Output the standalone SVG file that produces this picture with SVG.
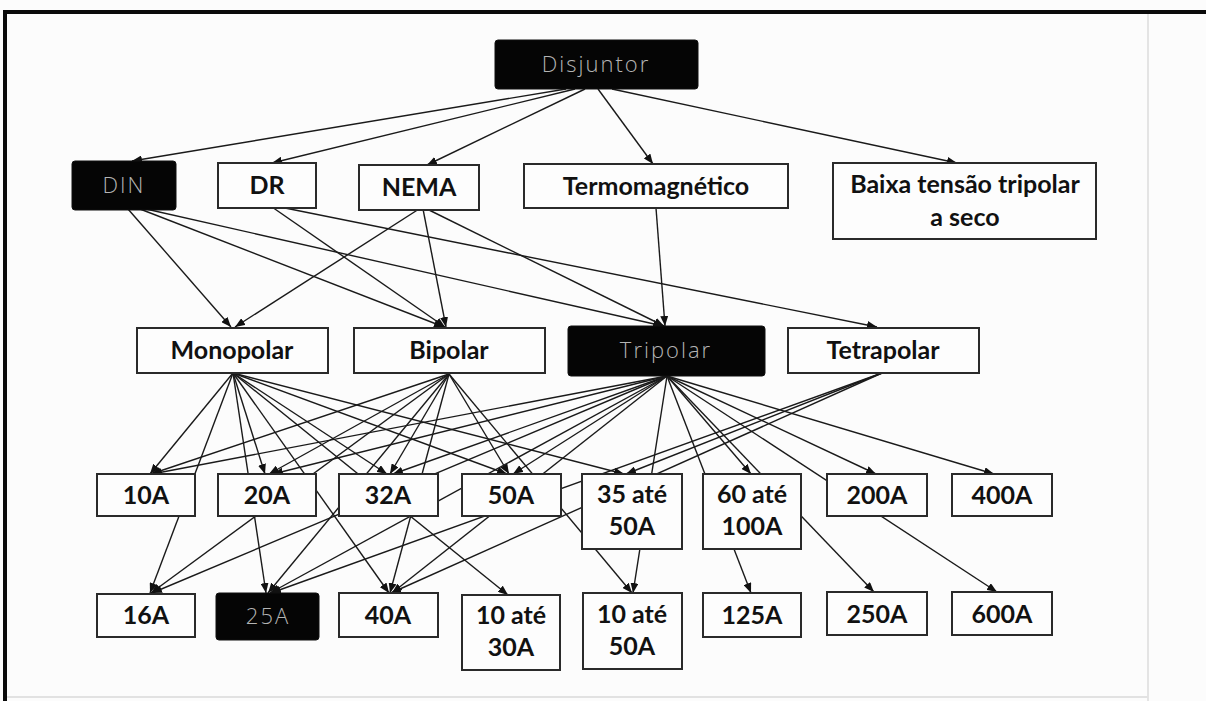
<svg xmlns="http://www.w3.org/2000/svg" width="1206" height="701" viewBox="0 0 1206 701">
<style>
.bg{fill:#fcfcfc}
.box{fill:#fdfdfd;stroke:#2a2a2a;stroke-width:2}
.dark{fill:#050505;stroke:#111;stroke-width:1}
.t{font-family:Lato,"Liberation Sans",sans-serif;font-weight:700;font-size:25px;fill:#111;text-anchor:middle}
.tl{font-family:"Open Sans","Liberation Sans",sans-serif;font-weight:300;font-size:22px;fill:#b4b4b4;text-anchor:middle;letter-spacing:2px}
.c line{stroke:#1a1a1a;stroke-width:1.4;marker-end:url(#ah)}
</style>
<defs>
<marker id="ah" markerUnits="userSpaceOnUse" markerWidth="10" markerHeight="8" refX="10" refY="4" orient="auto">
<path d="M0,0 L10,4 L0,8 z" fill="#111"/>
</marker>
</defs>
<rect class="bg" x="0" y="0" width="1206" height="701"/>
<line x1="1148" y1="14" x2="1148" y2="701" stroke="#e4e4e4" stroke-width="2"/>
<line x1="5" y1="697" x2="1148" y2="697" stroke="#e2e2e2" stroke-width="2"/>
<rect x="3" y="10" width="1203" height="4" fill="#0a0a0a"/>
<rect x="3" y="10" width="4" height="691" fill="#0a0a0a"/>

<g id="connectors" class="c">
<line x1="566" y1="89" x2="132" y2="161"/>
<line x1="575" y1="89" x2="272" y2="163"/>
<line x1="585" y1="89" x2="427" y2="165"/>
<line x1="598" y1="89" x2="653" y2="164"/>
<line x1="612" y1="89" x2="957" y2="163"/>

<line x1="128" y1="209" x2="231" y2="327"/>
<line x1="140" y1="209" x2="444" y2="327"/>
<line x1="146" y1="209" x2="663" y2="326"/>
<line x1="272" y1="207" x2="445" y2="327"/>
<line x1="280" y1="207" x2="877" y2="327"/>
<line x1="419" y1="209" x2="235" y2="327"/>
<line x1="423" y1="209" x2="446" y2="327"/>
<line x1="427" y1="209" x2="664" y2="326"/>
<line x1="656" y1="208" x2="665" y2="326"/>

<line x1="233" y1="373" x2="150" y2="474"/>
<line x1="233" y1="373" x2="150" y2="593"/>
<line x1="233" y1="373" x2="265" y2="474"/>
<line x1="233" y1="373" x2="266" y2="593"/>
<line x1="233" y1="373" x2="387" y2="474"/>
<line x1="233" y1="373" x2="389" y2="593"/>
<line x1="233" y1="373" x2="507" y2="474"/>
<line x1="233" y1="373" x2="624" y2="474"/>
<line x1="233" y1="373" x2="508" y2="595"/>

<line x1="449" y1="374" x2="151" y2="474"/>
<line x1="449" y1="374" x2="151" y2="593"/>
<line x1="449" y1="374" x2="269" y2="474"/>
<line x1="449" y1="374" x2="268" y2="593"/>
<line x1="449" y1="374" x2="390" y2="474"/>
<line x1="449" y1="374" x2="390" y2="593"/>
<line x1="449" y1="374" x2="509" y2="474"/>
<line x1="449" y1="374" x2="632" y2="593"/>

<line x1="667" y1="376" x2="152" y2="474"/>
<line x1="667" y1="376" x2="152" y2="593"/>
<line x1="667" y1="376" x2="273" y2="474"/>
<line x1="667" y1="376" x2="270" y2="593"/>
<line x1="667" y1="376" x2="393" y2="474"/>
<line x1="667" y1="376" x2="392" y2="593"/>
<line x1="667" y1="376" x2="513" y2="474"/>
<line x1="667" y1="376" x2="633" y2="593"/>
<line x1="667" y1="376" x2="751" y2="474"/>
<line x1="667" y1="376" x2="751" y2="593"/>
<line x1="667" y1="376" x2="876" y2="474"/>
<line x1="667" y1="376" x2="874" y2="592"/>
<line x1="667" y1="376" x2="994" y2="474"/>
<line x1="667" y1="376" x2="997" y2="592"/>

<line x1="882" y1="373" x2="626" y2="474"/>
<line x1="882" y1="373" x2="271" y2="593"/>
<line x1="882" y1="373" x2="391" y2="593"/>
</g>

<g id="n-disjuntor"><rect class="dark" x="495" y="40" width="203" height="49" rx="3"/><text class="tl" x="596" y="72">Disjuntor</text></g>
<g id="n-din"><rect class="dark" x="72" y="161" width="104" height="49" rx="3"/><text class="tl" x="124" y="193">DIN</text></g>
<g id="n-dr"><rect class="box" x="218" y="163" width="98" height="45"/><text class="t" x="267" y="194">DR</text></g>
<g id="n-nema"><rect class="box" x="359" y="165" width="120" height="45"/><text class="t" x="419" y="196">NEMA</text></g>
<g id="n-termo"><rect class="box" x="524" y="164" width="264" height="44"/><text class="t" x="656" y="195">Termomagnético</text></g>
<g id="n-baixa"><rect class="box" x="833" y="163" width="263" height="76"/><text class="t" x="965" y="193">Baixa tensão tripolar</text><text class="t" x="965" y="226">a seco</text></g>

<g id="n-mono"><rect class="box" x="137" y="328" width="191" height="45"/><text class="t" x="232" y="359">Monopolar</text></g>
<g id="n-bi"><rect class="box" x="354" y="328" width="191" height="45"/><text class="t" x="449" y="359">Bipolar</text></g>
<g id="n-tri"><rect class="dark" x="568" y="326" width="197" height="50" rx="3"/><text class="tl" x="666" y="358">Tripolar</text></g>
<g id="n-tetra"><rect class="box" x="788" y="328" width="191" height="45"/><text class="t" x="883" y="359">Tetrapolar</text></g>

<g id="n-10a"><rect class="box" x="97" y="474" width="98" height="42"/><text class="t" x="146" y="504">10A</text></g>
<g id="n-20a"><rect class="box" x="218" y="474" width="98" height="42"/><text class="t" x="267" y="504">20A</text></g>
<g id="n-32a"><rect class="box" x="339" y="474" width="99" height="42"/><text class="t" x="388" y="504">32A</text></g>
<g id="n-50a"><rect class="box" x="462" y="474" width="99" height="42"/><text class="t" x="511" y="504">50A</text></g>
<g id="n-35-50a"><rect class="box" x="582" y="474" width="100" height="75"/><text class="t" x="632" y="503">35 até</text><text class="t" x="632" y="535">50A</text></g>
<g id="n-60-100a"><rect class="box" x="703" y="474" width="98" height="75"/><text class="t" x="752" y="503">60 até</text><text class="t" x="752" y="535">100A</text></g>
<g id="n-200a"><rect class="box" x="827" y="474" width="100" height="42"/><text class="t" x="877" y="504">200A</text></g>
<g id="n-400a"><rect class="box" x="952" y="474" width="100" height="42"/><text class="t" x="1002" y="504">400A</text></g>

<g id="n-16a"><rect class="box" x="97" y="594" width="98" height="43"/><text class="t" x="146" y="624">16A</text></g>
<g id="n-25a"><rect class="dark" x="216" y="593" width="103" height="47" rx="3"/><text class="tl" x="268" y="624">25A</text></g>
<g id="n-40a"><rect class="box" x="339" y="593" width="99" height="44"/><text class="t" x="388" y="624">40A</text></g>
<g id="n-10-30a"><rect class="box" x="462" y="595" width="98" height="75"/><text class="t" x="511" y="624">10 até</text><text class="t" x="511" y="656">30A</text></g>
<g id="n-10-50a"><rect class="box" x="583" y="593" width="99" height="76"/><text class="t" x="632" y="623">10 até</text><text class="t" x="632" y="655">50A</text></g>
<g id="n-125a"><rect class="box" x="703" y="593" width="98" height="44"/><text class="t" x="752" y="624">125A</text></g>
<g id="n-250a"><rect class="box" x="827" y="592" width="100" height="43"/><text class="t" x="877" y="623">250A</text></g>
<g id="n-600a"><rect class="box" x="952" y="592" width="100" height="43"/><text class="t" x="1002" y="623">600A</text></g>
</svg>
